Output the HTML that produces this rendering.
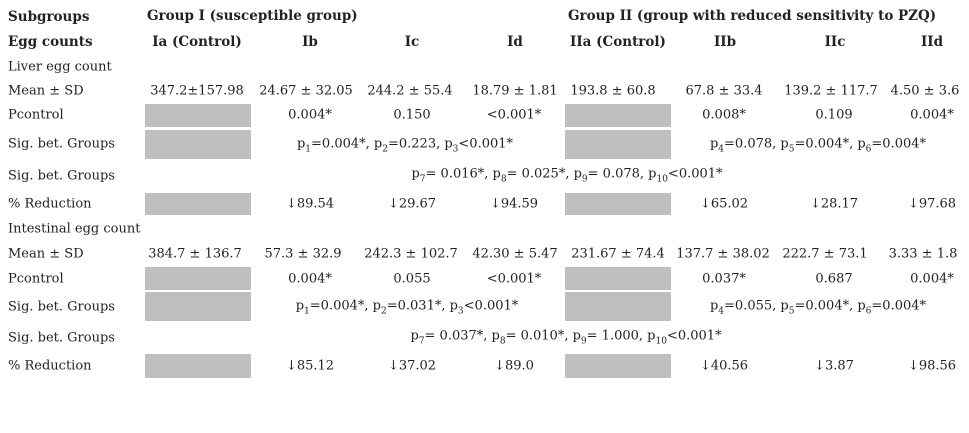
<!DOCTYPE html>
<html><head><meta charset="utf-8"><style>
body{margin:0;background:#fff;width:969px;height:433px;overflow:hidden;position:relative;font-family:"DejaVu Serif","Liberation Serif",serif;font-size:13px;color:#222}
.t{position:absolute;white-space:nowrap;transform:translate(-50%,-50%)}
.l{position:absolute;white-space:nowrap;transform:translateY(-50%);left:8px}
.b{font-weight:bold;font-family:"DejaVu Serif",serif;font-size:13.5px}
.g{position:absolute;background:#bfbfbf;width:106px}
sub{font-size:9px;vertical-align:-4px;line-height:0}
</style></head><body>
<span class="l b" style="top:17px">Subgroups</span>
<span class="l b" style="top:42px">Egg counts</span>
<span class="b" style="position:absolute;left:147px;top:8px">Group I (susceptible group)</span>
<span class="b" style="position:absolute;left:568px;top:8px">Group II (group with reduced sensitivity to PZQ)</span>
<span class="t b" style="left:197px;top:42px">Ia (Control)</span>
<span class="t b" style="left:310px;top:42px">Ib</span>
<span class="t b" style="left:412px;top:42px">Ic</span>
<span class="t b" style="left:515px;top:42px">Id</span>
<span class="t b" style="left:618px;top:42px">IIa (Control)</span>
<span class="t b" style="left:725px;top:42px">IIb</span>
<span class="t b" style="left:835px;top:42px">IIc</span>
<span class="t b" style="left:932px;top:42px">IId</span>

<span class="l" style="top:67px">Liver egg count</span>
<span class="l" style="top:91px">Mean ± SD</span>
<span class="l" style="top:115px">Pcontrol</span>
<span class="l" style="top:144px">Sig. bet. Groups</span>
<span class="l" style="top:176px">Sig. bet. Groups</span>
<span class="l" style="top:204px">% Reduction</span>

<span class="t" style="left:197px;top:91px">347.2±157.98</span>
<span class="t" style="left:306px;top:91px">24.67 ± 32.05</span>
<span class="t" style="left:410px;top:91px">244.2 ± 55.4</span>
<span class="t" style="left:515px;top:91px">18.79 ± 1.81</span>
<span class="t" style="left:613px;top:91px">193.8 ± 60.8</span>
<span class="t" style="left:724px;top:91px">67.8 ± 33.4</span>
<span class="t" style="left:831px;top:91px">139.2 ± 117.7</span>
<span class="t" style="left:925px;top:91px">4.50 ± 3.6</span>

<div class="g" style="left:145px;top:104px;height:23px"></div>
<div class="g" style="left:565px;top:104px;height:23px"></div>
<span class="t" style="left:310px;top:115px">0.004*</span>
<span class="t" style="left:412px;top:115px">0.150</span>
<span class="t" style="left:514px;top:115px">&lt;0.001*</span>
<span class="t" style="left:724px;top:115px">0.008*</span>
<span class="t" style="left:834px;top:115px">0.109</span>
<span class="t" style="left:932px;top:115px">0.004*</span>

<div class="g" style="left:145px;top:130px;height:29px"></div>
<div class="g" style="left:565px;top:130px;height:29px"></div>
<span class="t" style="left:405px;top:144px">p<sub>1</sub>=0.004*, p<sub>2</sub>=0.223, p<sub>3</sub>&lt;0.001*</span>
<span class="t" style="left:818px;top:144px">p<sub>4</sub>=0.078, p<sub>5</sub>=0.004*, p<sub>6</sub>=0.004*</span>
<span class="t" style="left:567px;top:174px">p<sub>7</sub>= 0.016*, p<sub>8</sub>= 0.025*, p<sub>9</sub>= 0.078, p<sub>10</sub>&lt;0.001*</span>

<div class="g" style="left:145px;top:193px;height:22px"></div>
<div class="g" style="left:565px;top:193px;height:22px"></div>
<span class="t" style="left:310px;top:204px">↓89.54</span>
<span class="t" style="left:412px;top:204px">↓29.67</span>
<span class="t" style="left:514px;top:204px">↓94.59</span>
<span class="t" style="left:724px;top:204px">↓65.02</span>
<span class="t" style="left:834px;top:204px">↓28.17</span>
<span class="t" style="left:932px;top:204px">↓97.68</span>

<span class="l" style="top:229px">Intestinal egg count</span>
<span class="l" style="top:254px">Mean ± SD</span>
<span class="l" style="top:279px">Pcontrol</span>
<span class="l" style="top:307px">Sig. bet. Groups</span>
<span class="l" style="top:338px">Sig. bet. Groups</span>
<span class="l" style="top:366px">% Reduction</span>

<span class="t" style="left:195px;top:254px">384.7 ± 136.7</span>
<span class="t" style="left:303px;top:254px">57.3 ± 32.9</span>
<span class="t" style="left:411px;top:254px">242.3 ± 102.7</span>
<span class="t" style="left:515px;top:254px">42.30 ± 5.47</span>
<span class="t" style="left:618px;top:254px">231.67 ± 74.4</span>
<span class="t" style="left:723px;top:254px">137.7 ± 38.02</span>
<span class="t" style="left:825px;top:254px">222.7 ± 73.1</span>
<span class="t" style="left:923px;top:254px">3.33 ± 1.8</span>

<div class="g" style="left:145px;top:267px;height:23px"></div>
<div class="g" style="left:565px;top:267px;height:23px"></div>
<span class="t" style="left:310px;top:279px">0.004*</span>
<span class="t" style="left:412px;top:279px">0.055</span>
<span class="t" style="left:514px;top:279px">&lt;0.001*</span>
<span class="t" style="left:724px;top:279px">0.037*</span>
<span class="t" style="left:834px;top:279px">0.687</span>
<span class="t" style="left:932px;top:279px">0.004*</span>

<div class="g" style="left:145px;top:292px;height:29px"></div>
<div class="g" style="left:565px;top:292px;height:29px"></div>
<span class="t" style="left:407px;top:306px">p<sub>1</sub>=0.004*, p<sub>2</sub>=0.031*, p<sub>3</sub>&lt;0.001*</span>
<span class="t" style="left:818px;top:306px">p<sub>4</sub>=0.055, p<sub>5</sub>=0.004*, p<sub>6</sub>=0.004*</span>
<span class="t" style="left:566px;top:336px">p<sub>7</sub>= 0.037*, p<sub>8</sub>= 0.010*, p<sub>9</sub>= 1.000, p<sub>10</sub>&lt;0.001*</span>

<div class="g" style="left:145px;top:354px;height:24px"></div>
<div class="g" style="left:565px;top:354px;height:24px"></div>
<span class="t" style="left:310px;top:366px">↓85.12</span>
<span class="t" style="left:412px;top:366px">↓37.02</span>
<span class="t" style="left:514px;top:366px">↓89.0</span>
<span class="t" style="left:724px;top:366px">↓40.56</span>
<span class="t" style="left:834px;top:366px">↓3.87</span>
<span class="t" style="left:932px;top:366px">↓98.56</span>
</body></html>
